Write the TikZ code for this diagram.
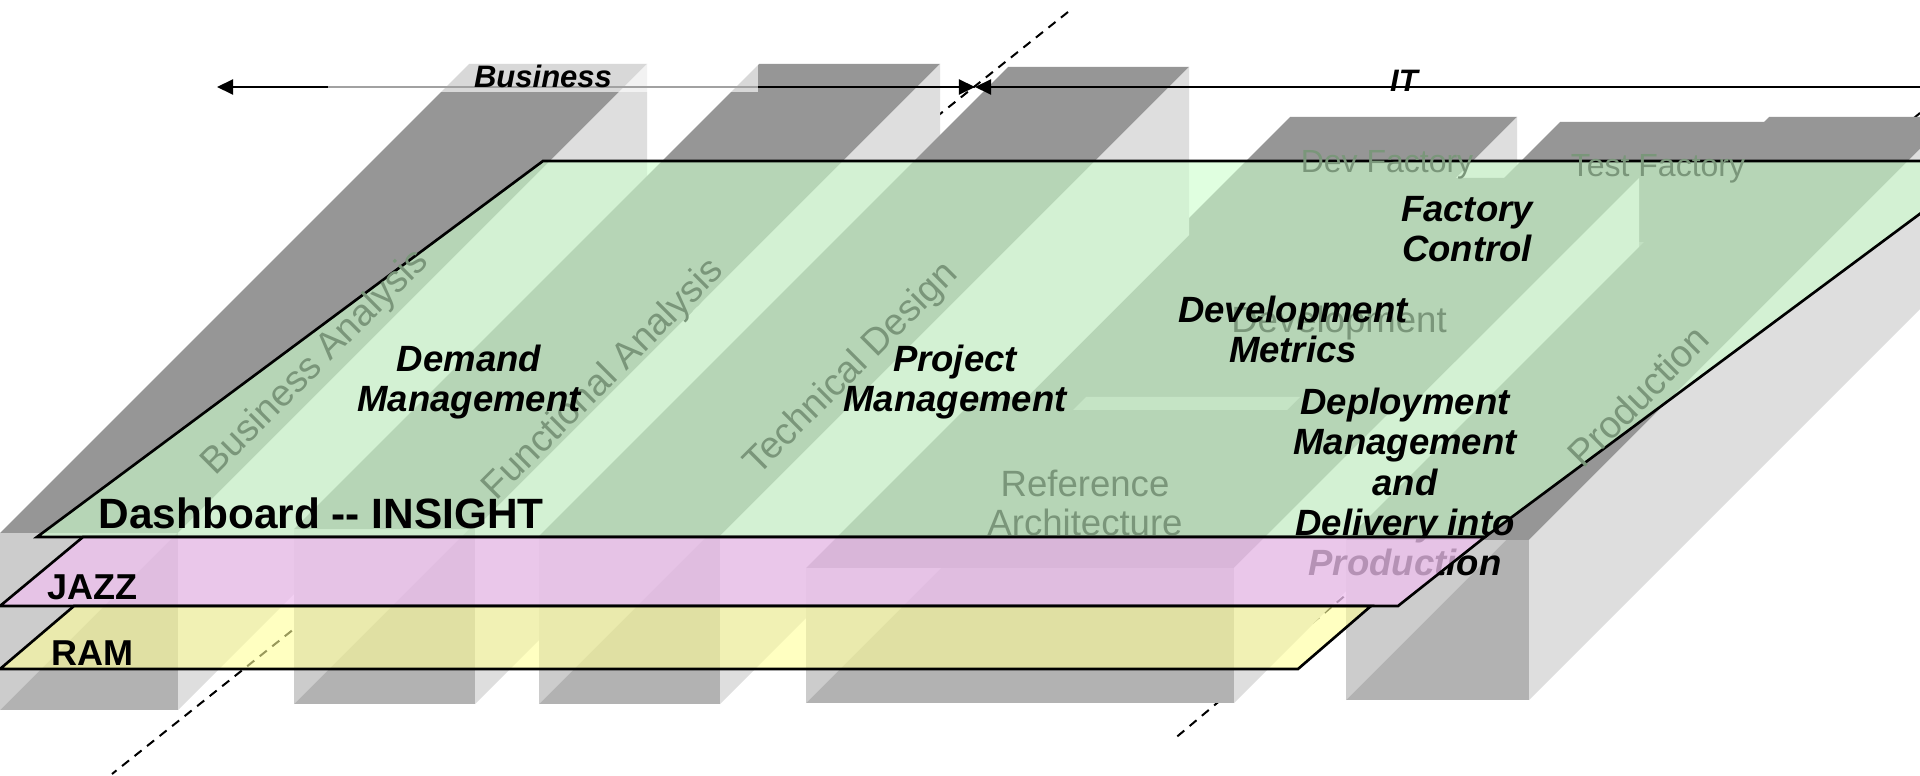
\documentclass[tikz,border=0pt]{standalone}
\usepackage{fontspec}
\setmainfont{Liberation Sans}
\usetikzlibrary{arrows.meta}
\definecolor{topc}{RGB}{150,150,150}
\definecolor{sidec}{RGB}{222,222,222}
\definecolor{bandc}{RGB}{188,188,188}
\definecolor{frontc}{RGB}{178,178,178}
\definecolor{frontl}{RGB}{204,204,204}
\definecolor{greenp}{RGB}{204,255,204}
\definecolor{pinkp}{RGB}{239,193,239}
\definecolor{yellowp}{RGB}{255,255,153}
\definecolor{labc}{RGB}{122,150,122}
\newcommand\blk[5]{%
  \fill[topc] (#1,#3) -- ({#1+#2},#3) -- ({#1+#2+#5},{#3-#5}) -- ({#1+#5},{#3-#5}) -- cycle;
  \fill[sidec] ({#1+#2},#3) -- ({#1+#2+#5},{#3-#5}) -- ({#1+#2+#5},{#4-#5}) -- ({#1+#2},#4) -- cycle;
  \fill[frontc] (#1,#3) rectangle ({#1+#2},#4);
  \begin{scope}
    \clip (#1,#3) rectangle ({#1+#2},#4);
    \fill[frontl] (#1,#4) -- ({#1+1000},{#4-1000}) -- (#1,{#4-1000}) -- cycle;
  \end{scope}}
\tikzset{
  bi/.style={font=\fontsize{10.39pt}{11.38pt}\selectfont\bfseries\itshape, inner sep=0pt},
  hdr/.style={font=\fontsize{8.82pt}{10pt}\selectfont\bfseries\itshape, inner sep=0pt},
  lab/.style={font=\fontsize{10.67pt}{12pt}\selectfont, text=labc, inner sep=0pt},
  labf/.style={font=\fontsize{9.1pt}{11pt}\selectfont, text=labc, inner sep=0pt},
  labm/.style={font=\fontsize{10.4pt}{11.1pt}\selectfont, text=labc, inner sep=0pt},
  big/.style={font=\fontsize{12.05pt}{13pt}\selectfont\bfseries, inner sep=0pt},
  mid/.style={font=\fontsize{10.24pt}{12pt}\selectfont\bfseries, inner sep=0pt},
  arr/.style={line width=0.57pt},
  dashln/.style={line width=0.57pt, dash pattern=on 0.09cm off 0.07cm},
  plane/.style={draw=black, line width=0.75pt, fill opacity=0.6},
}
\begin{document}
\begin{tikzpicture}[x=0.01cm,y=-0.01cm]
\useasboundingbox (0,0) rectangle (1920,776);
\clip (0,0) rectangle (1920,776);
\fill[white] (0,0) rectangle (1920,776);
% dashed boundary lines
\coordinate (d1a) at (1068,12);
\coordinate (d1b) at (112,774);
\coordinate (d2a) at (1920,113);
\coordinate (d2b) at (1173,740);
\draw[dashln] (d1a) -- (d1b);
\draw[dashln] (d2a) -- (d2b);
% blocks (back to front)
\blk{820}{227}{587}{700}{470}
\blk{1440}{210}{242}{362}{120}
\blk{1203}{186}{428}{548}{250}
\blk{0}{178}{533}{710}{469}
\blk{294}{181}{529}{704}{465}
\blk{539}{181}{536}{704}{469}
\blk{806}{428}{568}{703}{171}
\fill[bandc] (1086,397) -- (1300,397) -- (1287,410) -- (1073,410) -- cycle;
\blk{1346}{183}{540}{700}{423}
% arrows
\coordinate (bl) at (217,87);
\coordinate (bm) at (975,87);
\coordinate (ir) at (1930,87);
\draw[arr, {Triangle[length=0.16cm,width=0.15cm]}-{Triangle[length=0.16cm,width=0.15cm]}] (bl) -- (bm);
\draw[arr, {Triangle[length=0.16cm,width=0.15cm]}-] (bm) -- (ir);
\fill[white, opacity=0.63] (328,63) rectangle (758,92);
\node[hdr, anchor=base] (biz) at (543,88) {Business};
\node[hdr, anchor=base] (it) at (1404,92) {IT};
% dashboard plane
\filldraw[plane, fill=greenp] (37,537) -- (543,161) -- (1991,161) -- (1485,537) -- cycle;
% grey labels
\node[lab, rotate=45] (ba) at (316,363) {Business Analysis};
\node[lab, rotate=45] (fa) at (604,380) {Functional Analysis};
\node[lab, rotate=45] (td) at (852,369) {Technical Design};
\node[lab, rotate=45, font=\fontsize{10.8pt}{12pt}\selectfont] (pr) at (1638,396) {Production};
\node[labf, anchor=base] (df) at (1387,173) {Dev Factory};
\node[labf, anchor=base] (tf) at (1658,177) {Test Factory};
\node[labm, anchor=base] (dv) at (1339,333) {Development};
\node[labm, anchor=base] (ra1) at (1085,496) {Reference};
\node[labm, anchor=base] (ra2) at (1085,535) {Architecture};
% black labels
\node[bi, anchor=base] (dm1) at (469,372) {Demand};
\node[bi, anchor=base] (dm2) at (469,412) {Management};
\node[bi, anchor=base] (pm1) at (955,372) {Project};
\node[bi, anchor=base] (pm2) at (955,412) {Management};
\node[bi, anchor=base] (dvm1) at (1293,323) {Development};
\node[bi, anchor=base] (dvm2) at (1293,363) {Metrics};
\node[bi, anchor=base] (fc1) at (1467,222) {Factory};
\node[bi, anchor=base] (fc2) at (1467,262) {Control};
\node[bi, anchor=base] (dp1) at (1405,415) {Deployment};
\node[bi, anchor=base] (dp2) at (1405,455) {Management};
\node[bi, anchor=base] (dp3) at (1405,495) {and};
\node[bi, anchor=base] (dp4) at (1405,535) {Delivery into};
\node[bi, anchor=base] (dp5) at (1405,575) {Production};
% JAZZ and RAM planes
\filldraw[plane, fill=pinkp, fill opacity=0.76] (0,606) -- (83,537) -- (1485,537) -- (1398,606) -- cycle;
\filldraw[plane, fill=yellowp] (0,669) -- (74,606) -- (1371,606) -- (1298,669) -- cycle;
\node[big, anchor=base west] (dash) at (98,528) {Dashboard -{}- INSIGHT};
\node[mid, anchor=base west] (jazz) at (47,600) {JAZZ};
\node[mid, anchor=base west] (ram) at (51,666) {RAM};
\end{tikzpicture}
\end{document}
